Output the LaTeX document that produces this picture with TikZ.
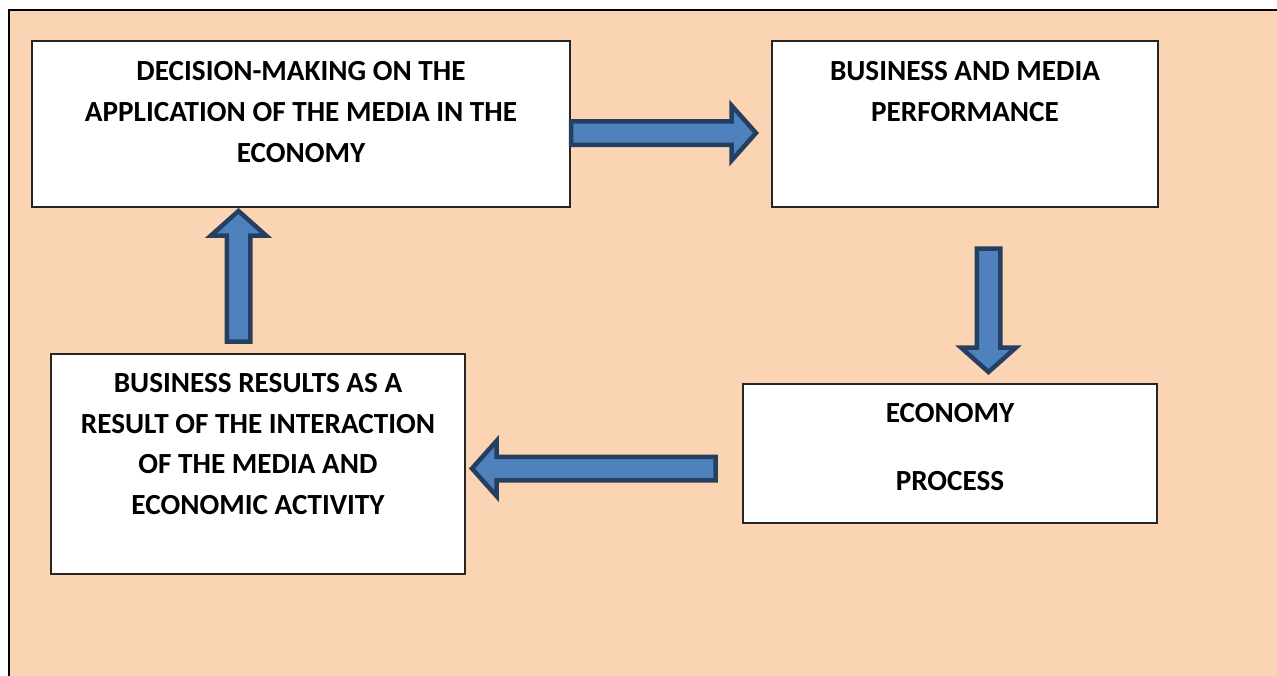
\documentclass[tikz,border=0pt]{standalone}
\usepackage{fontspec}
\setmainfont{Carlito}
\definecolor{bgpeach}{HTML}{FBD4B4}
\definecolor{arrfill}{HTML}{4F81BD}
\definecolor{arrline}{HTML}{243F60}
\tikzset{
  frame/.style={draw=black, line width=2.5pt, fill=bgpeach},
  box/.style={draw=black!85, line width=1.3pt, fill=white},
  label/.style={font=\bfseries\fontsize{29.2}{41}\selectfont, align=center, anchor=base, inner sep=0pt},
  barrowstyle/.style={draw=arrline, fill=arrfill, line width=4.5pt, line join=miter},
  pics/barrow/.style={code={
    \draw[barrowstyle] (0,-11.75) -- (#1-24.5,-11.75) -- (#1-24.5,-27.5) -- (#1,0)
      -- (#1-24.5,27.5) -- (#1-24.5,11.75) -- (0,11.75) -- cycle;}}
}
\begin{document}
\begin{tikzpicture}[x=1pt,y=-1pt]
\useasboundingbox (0,0) rectangle (1277,675);
\fill[white] (0,0) rectangle (1277,675);
\draw[frame] (9,10) rectangle (1290,690);

% boxes
\draw[box] (32,41) rectangle (570,207);
\node[inner sep=0pt] (decision) at (301,124) {};
\draw[box] (772,41) rectangle (1158,207);
\node[inner sep=0pt] (performance) at (965,124) {};
\draw[box] (743,384) rectangle (1157,523);
\node[inner sep=0pt] (economy) at (950,453) {};
\draw[box] (51,354) rectangle (465,574);
\node[inner sep=0pt] (results) at (258,464) {};

% texts (base anchor = last line's baseline)
\node[label] (t1) at (301,162) {DECISION-MAKING ON THE\\APPLICATION OF THE MEDIA IN THE\\ECONOMY};
\node[label] (t2) at (965,121) {BUSINESS AND MEDIA\\PERFORMANCE};
\node[label, font=\bfseries\fontsize{29.2}{34}\selectfont] (t3) at (950,490) {ECONOMY\\[34pt]PROCESS};
\node[label, font=\bfseries\fontsize{29.2}{40.5}\selectfont] (t4) at (258,514) {BUSINESS RESULTS AS A\\RESULT OF THE INTERACTION\\OF THE MEDIA AND\\ECONOMIC ACTIVITY};

% block arrows
\coordinate (a1) at (571,133);
\pic at (a1) {barrow=185};
\coordinate (a2) at (988.5,248.5);
\pic[rotate=-90] at (a2) {barrow=123.5};
\coordinate (a3) at (715.5,468.5);
\pic[rotate=180] at (a3) {barrow=243.5};
\coordinate (a4) at (238.5,341.5);
\pic[rotate=90] at (a4) {barrow=130.5};
\end{tikzpicture}
\end{document}
